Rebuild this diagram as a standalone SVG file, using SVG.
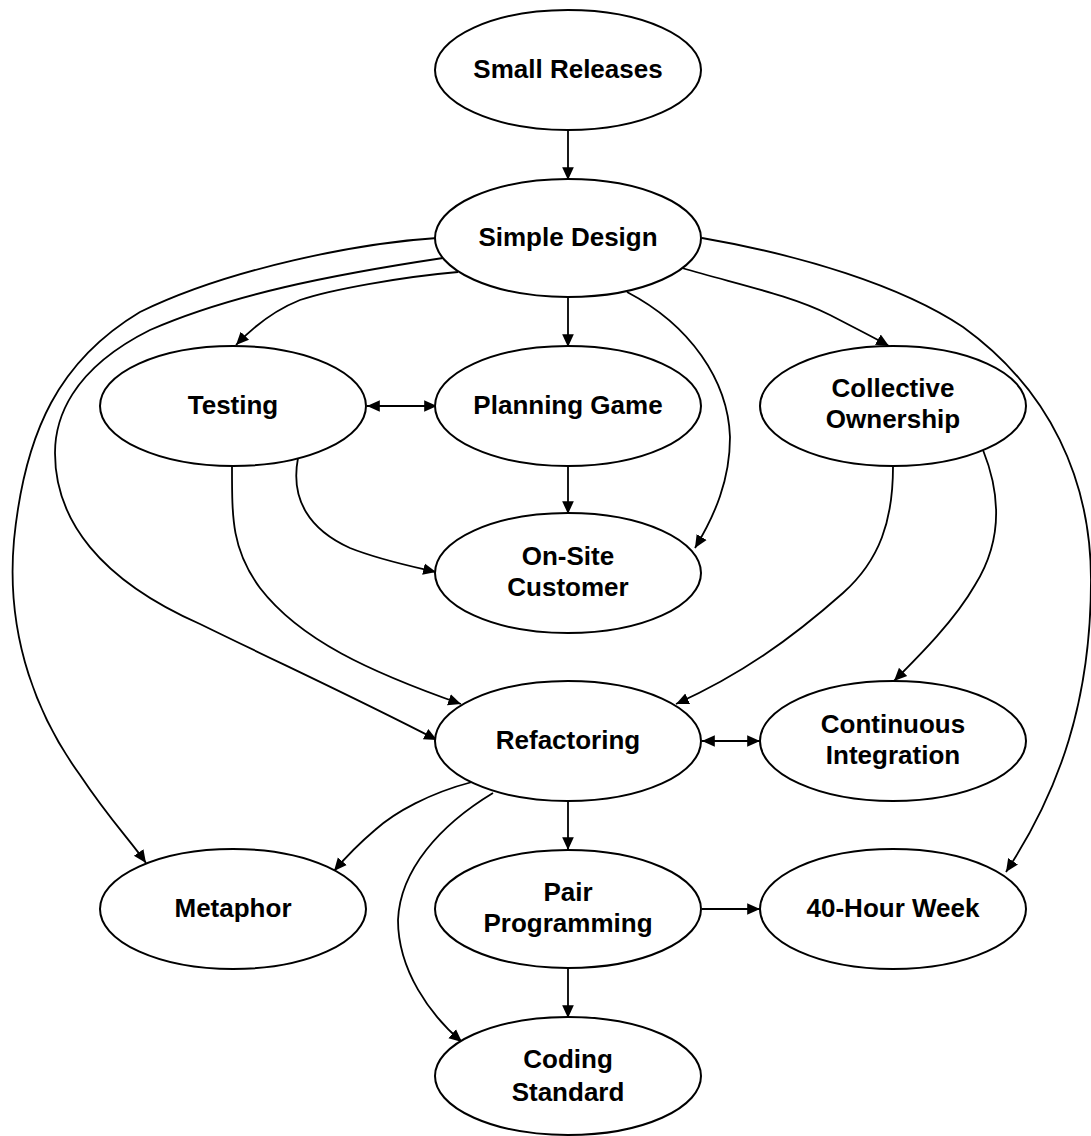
<svg xmlns="http://www.w3.org/2000/svg" width="1091" height="1136" viewBox="0 0 1091 1136">
<style>
.n ellipse{fill:#fff;stroke:#000;stroke-width:2}
.n text{font-family:"Liberation Sans",Arial,sans-serif;font-weight:bold;font-size:26px;text-anchor:middle;fill:#000}
.c path{fill:none;stroke:#000;stroke-width:1.8;marker-end:url(#a)}
.c path.b{marker-start:url(#a)}
</style>
<defs>
<marker id="a" markerUnits="userSpaceOnUse" markerWidth="14" markerHeight="14" viewBox="0 0 12 12" refX="11" refY="6" orient="auto-start-reverse">
<path d="M0,1 L11,6 L0,11 Z" fill="#000"/>
</marker>
</defs>
<rect width="1091" height="1136" fill="#fff"/>
<g id="connectors" class="c">
<path d="M568,128 L568,180"/>
<path d="M568,296 L568,347"/>
<path d="M568,465 L568,514"/>
<path d="M568,800 L568,850"/>
<path d="M568,967 L568,1018"/>
<path class="b" d="M367,406 L437,406"/>
<path class="b" d="M702,741 L760,741"/>
<path d="M702,909 L760,909"/>
<path d="M458,272 C400,277 330,290 300,300 C275,310 255,325 236,345"/>
<path d="M437,238 C360,243 230,268 140,312 C60,360 25,430 14,540 C5,640 40,720 80,775 C110,820 130,840 146,863"/>
<path d="M443,258 C330,275 230,295 150,330 C70,370 55,420 55,453 C55,520 100,580 200,624 C290,668 360,700 437,740"/>
<path d="M232,467 C232,520 232,550 260,588 C300,640 370,672 461,704"/>
<path d="M298,458 C290,500 310,530 350,548 C380,560 410,566 436,572"/>
<path d="M627,292 C690,325 728,380 730,437 C730,480 715,515 695,548"/>
<path d="M682,268 C740,285 790,295 830,315 C855,328 875,338 889,346"/>
<path d="M702,238 C800,255 900,285 963,327 C1050,390 1091,480 1091,580 C1091,700 1060,790 1006,872"/>
<path d="M893,467 C893,520 880,560 843,593 C790,640 740,675 676,704"/>
<path d="M983,450 C1003,500 1000,545 975,585 C955,620 920,655 894,681"/>
<path d="M472,782 C430,793 395,812 375,830 C355,847 345,858 334,871"/>
<path d="M493,793 C440,825 400,870 398,920 C398,970 430,1015 462,1042"/>
</g>
<g id="small-releases" class="n"><ellipse cx="568" cy="70" rx="133" ry="60"/><text x="568" y="78">Small Releases</text></g>
<g id="simple-design" class="n"><ellipse cx="568" cy="238" rx="133" ry="59"/><text x="568" y="246">Simple Design</text></g>
<g id="testing" class="n"><ellipse cx="233" cy="406" rx="133" ry="60"/><text x="233" y="414">Testing</text></g>
<g id="planning-game" class="n"><ellipse cx="568" cy="406" rx="133" ry="60"/><text x="568" y="414">Planning Game</text></g>
<g id="collective-ownership" class="n"><ellipse cx="893" cy="406" rx="133" ry="60"/><text x="893" y="397">Collective</text><text x="893" y="428">Ownership</text></g>
<g id="on-site-customer" class="n"><ellipse cx="568" cy="573" rx="133" ry="60"/><text x="568" y="565">On-Site</text><text x="568" y="596">Customer</text></g>
<g id="refactoring" class="n"><ellipse cx="568" cy="741" rx="133" ry="60"/><text x="568" y="749">Refactoring</text></g>
<g id="continuous-integration" class="n"><ellipse cx="893" cy="741" rx="133" ry="60"/><text x="893" y="733">Continuous</text><text x="893" y="764">Integration</text></g>
<g id="metaphor" class="n"><ellipse cx="233" cy="909" rx="133" ry="60"/><text x="233" y="917">Metaphor</text></g>
<g id="pair-programming" class="n"><ellipse cx="568" cy="909" rx="133" ry="59"/><text x="568" y="901">Pair</text><text x="568" y="932">Programming</text></g>
<g id="forty-hour-week" class="n"><ellipse cx="893" cy="909" rx="133" ry="60"/><text x="893" y="917">40-Hour Week</text></g>
<g id="coding-standard" class="n"><ellipse cx="568" cy="1076" rx="133" ry="59"/><text x="568" y="1068">Coding</text><text x="568" y="1101">Standard</text></g>
</svg>
